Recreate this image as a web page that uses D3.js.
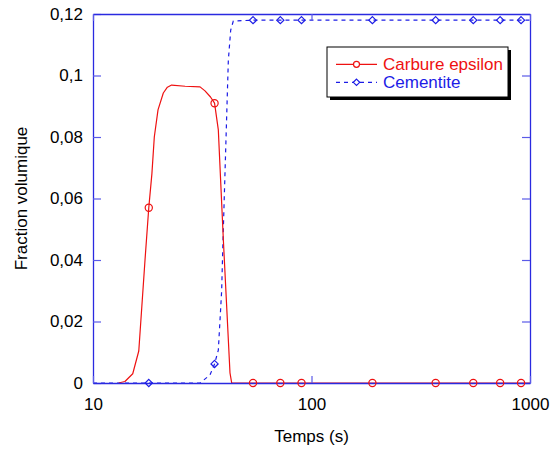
<!DOCTYPE html>
<html>
<head>
<meta charset="utf-8">
<script src="https://cdn.jsdelivr.net/npm/d3@7"></script>
<style>
  html, body { margin: 0; padding: 0; background: #fff; }
  svg { display: block; font-family: "Liberation Sans", Arial, Helvetica, sans-serif; }
</style>
</head>
<body>
<svg id="chart" width="555" height="450"></svg>
<script>
// ---- Data ----
const redTimes  = [13.1, 14.0, 15.2, 16.2, 17.3, 18.0, 18.6, 19.08, 19.84, 20.98, 21.9, 22.9, 26.4, 30.9, 32.55, 34.5, 36.0, 37.46, 39.5, 42.36, 43.13, 54, 72, 90, 190, 370, 550, 730, 910, 1000];
const redValues = [0, 0.0005, 0.003, 0.0104, 0.040, 0.057, 0.068, 0.080, 0.0888, 0.0943, 0.0962, 0.0969, 0.0965, 0.0963, 0.0950, 0.0930, 0.0910, 0.0823, 0.0465, 0.0033, 0, 0, 0, 0, 0, 0, 0, 0, 0, 0];

const blueTimes  = [10, 30.9, 34.3, 36.0, 37.46, 38.8, 39.3, 40.8, 41.63, 42.68, 43.86, 54, 72, 90, 190, 370, 550, 730, 910, 1000];
const blueValues = [0, 0, 0.0026, 0.0062, 0.0107, 0.030, 0.045, 0.084, 0.105, 0.1148, 0.1177, 0.118, 0.118, 0.118, 0.118, 0.118, 0.118, 0.118, 0.118, 0.118];

const markerTimes       = [18, 36, 54, 72, 90, 190, 370, 550, 730, 910];
const redMarkerValues   = [0.057, 0.091, 0, 0, 0, 0, 0, 0, 0, 0];
const blueMarkerValues  = [0, 0.0062, 0.118, 0.118, 0.118, 0.118, 0.118, 0.118, 0.118, 0.118];

const xTickValues = [10, 100, 1000];
const xTickLabels = ["10", "100", "1000"];
const yTickValues = [0, 0.02, 0.04, 0.06, 0.08, 0.1, 0.12];
const yTickLabels = ["0", "0,02", "0,04", "0,06", "0,08", "0,1", "0,12"];

const seriesNames = ["Carbure epsilon", "Cementite"];
const xTitle = "Temps (s)";
const yTitle = "Fraction volumique";

// ---- Layout ----
const L = 93, R = 530, T = 14, B = 383;
const RED = "#ee1111", BLUE = "#1c1ce6", AXIS = "#2a2ae0", TICK = "#5a5ae8";
const FS = 17;

const svg = d3.select("#chart");
const x = d3.scaleLog().domain([10, 1000]).range([L, R]);
const y = d3.scaleLinear().domain([0, 0.12]).range([B, T]);

const red = redTimes.map((t, i) => [t, redValues[i]]);
const blue = blueTimes.map((t, i) => [t, blueValues[i]]);
const line = d3.line().x(d => x(d[0])).y(d => y(d[1]));

// Curves
svg.append("path").datum(blue).attr("d", line)
  .attr("fill", "none").attr("stroke", BLUE).attr("stroke-width", 1.2)
  .attr("stroke-dasharray", "4,4");
svg.append("path").datum(red).attr("d", line)
  .attr("fill", "none").attr("stroke", RED).attr("stroke-width", 1.2)
  .attr("stroke-linejoin", "round");

// Axes (frame + ticks) drawn on top of curves
const fmtY = (d, i) => yTickLabels[i];
const fmtX = (d, i) => xTickLabels[i];

const gL = svg.append("g").attr("transform", `translate(${L},0)`)
  .call(d3.axisLeft(y).tickValues(yTickValues).tickFormat(fmtY).tickSizeInner(-8).tickSizeOuter(0).tickPadding(10));
const gR = svg.append("g").attr("transform", `translate(${R},0)`)
  .call(d3.axisRight(y).tickValues(yTickValues).tickFormat("").tickSizeInner(-8).tickSizeOuter(0));
const gB = svg.append("g").attr("transform", `translate(0,${B})`)
  .call(d3.axisBottom(x).tickValues(xTickValues).tickFormat(fmtX).tickSizeInner(-7).tickSizeOuter(0).tickPadding(15));
const gT = svg.append("g").attr("transform", `translate(0,${T})`)
  .call(d3.axisTop(x).tickValues(xTickValues).tickFormat("").tickSizeInner(-7).tickSizeOuter(0));

[gL, gR, gB, gT].forEach(g => {
  g.select(".domain").attr("stroke", AXIS).attr("stroke-width", 1.3);
  g.selectAll(".tick line").attr("stroke", TICK).attr("stroke-width", 1.2);
  g.selectAll(".tick text").attr("fill", "#000").attr("font-size", FS)
    .attr("font-family", "'Liberation Sans', Arial, sans-serif");
});

// Markers
const redM = markerTimes.map((t, i) => [t, redMarkerValues[i]]);
const blueM = markerTimes.map((t, i) => [t, blueMarkerValues[i]]);
svg.append("g").selectAll("circle").data(redM).join("circle")
  .attr("cx", d => x(d[0])).attr("cy", d => y(d[1])).attr("r", 3.6)
  .attr("fill", "none").attr("stroke", RED).attr("stroke-width", 1.2);
const diamond = (cx, cy, s) => `M${cx},${cy - s}L${cx + s},${cy}L${cx},${cy + s}L${cx - s},${cy}Z`;
svg.append("g").selectAll("path").data(blueM).join("path")
  .attr("d", d => diamond(x(d[0]), y(d[1]), 3.6))
  .attr("fill", "none").attr("stroke", BLUE).attr("stroke-width", 1.2);

// Axis titles
svg.append("text").attr("x", (L + R) / 2).attr("y", 442).attr("text-anchor", "middle")
  .attr("font-size", FS).attr("fill", "#000").text(xTitle);
svg.append("text").attr("transform", `translate(26.5,${(T + B) / 2}) rotate(-90)`)
  .attr("text-anchor", "middle").attr("font-size", FS).attr("fill", "#000").text(yTitle);

// Legend
const lg = svg.append("g");
const lx = 327, ly = 47, lw = 181, lh = 50;
lg.append("rect").attr("x", lx + 3).attr("y", ly + 3).attr("width", lw).attr("height", lh).attr("fill", "#000");
lg.append("rect").attr("x", lx).attr("y", ly).attr("width", lw).attr("height", lh)
  .attr("fill", "#fff").attr("stroke", "#000").attr("stroke-width", 1);
const legendColors = [RED, BLUE];
const legendY = [64.3, 82.3];
seriesNames.forEach((name, i) => {
  lg.append("line").attr("x1", 336).attr("x2", 377).attr("y1", legendY[i]).attr("y2", legendY[i])
    .attr("stroke", legendColors[i]).attr("stroke-width", 1.2)
    .attr("stroke-dasharray", i === 1 ? "4,4" : null);
  if (i === 0) {
    lg.append("circle").attr("cx", 356.5).attr("cy", legendY[i]).attr("r", 3)
      .attr("fill", "#fff").attr("stroke", RED).attr("stroke-width", 1.2);
  } else {
    lg.append("path").attr("d", diamond(356.5, legendY[i], 3.2))
      .attr("fill", "#fff").attr("stroke", BLUE).attr("stroke-width", 1.2);
  }
  lg.append("text").attr("x", 383).attr("y", legendY[i] + 5.8).attr("font-size", FS)
    .attr("fill", legendColors[i]).text(name);
});
</script>
</body>
</html>
